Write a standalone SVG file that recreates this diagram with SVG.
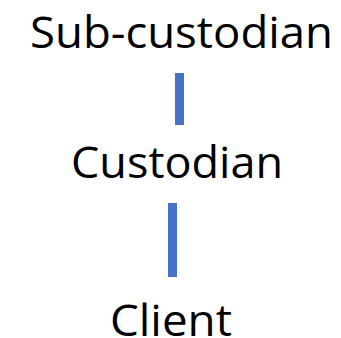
<svg xmlns="http://www.w3.org/2000/svg" width="341" height="338" viewBox="0 0 341 338">
<style>
.t{font-family:"Open Sans","Liberation Sans",sans-serif;font-size:44px;fill:#000;text-anchor:middle}
.c{fill:#4472C4}
</style>
<rect width="341" height="338" fill="#fff"/>
<g id="connectors">
<rect class="c" x="175" y="73" width="9" height="52"/>
<rect class="c" x="168" y="203" width="9" height="74"/>
</g>
<g id="sub-custodian"><text class="t" x="181.5" y="48" textLength="303" lengthAdjust="spacingAndGlyphs">Sub-custodian</text></g>
<g id="custodian"><text class="t" x="177" y="178" textLength="212" lengthAdjust="spacingAndGlyphs">Custodian</text></g>
<g id="client"><text class="t" x="171" y="336" textLength="122" lengthAdjust="spacingAndGlyphs">Client</text></g>
</svg>
